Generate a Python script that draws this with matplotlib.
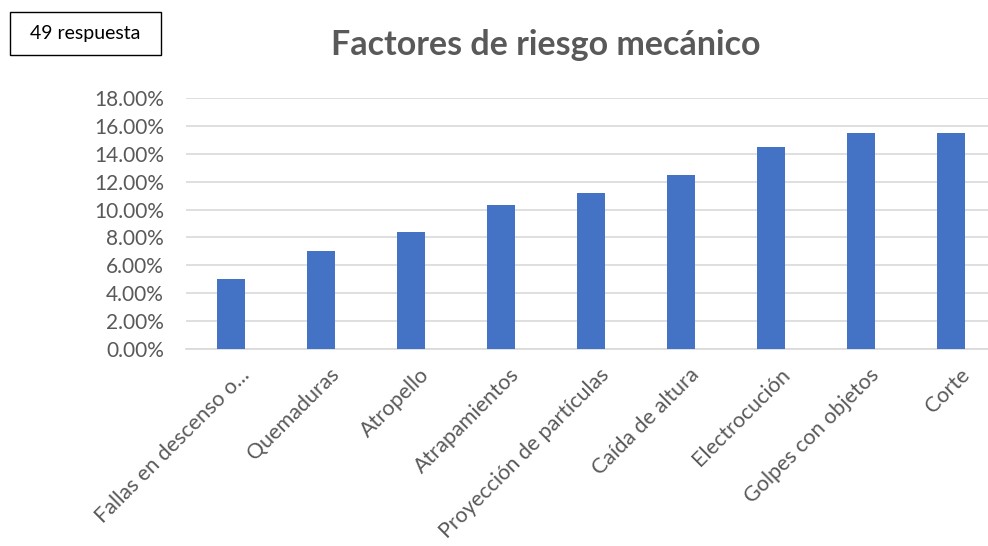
import matplotlib.pyplot as plt
import matplotlib.transforms as mtransforms
from matplotlib.patches import Rectangle
from matplotlib.ticker import FuncFormatter

# datos
categorias = ["Fallas en descenso o...", "Quemaduras", "Atropello", "Atrapamientos",
              "Proyección de partículas", "Caída de altura", "Electrocución",
              "Golpes con objetos", "Corte"]
valores = [5.0, 7.0, 8.4, 10.3, 11.2, 12.5, 14.5, 15.5, 15.5]
yticks = [0, 2, 4, 6, 8, 10, 12, 14, 16, 18]

plt.rcParams['font.family'] = ['Lato', 'DejaVu Sans']
gris = '#595959'

fig = plt.figure(figsize=(9.88, 5.46), dpi=100)
W, H = 988, 546
# zone du graphique (en pixels de la référence)
ax = fig.add_axes([186 / W, (H - 349.3) / H, 810 / W, (349.3 - 97.7) / H])

x = range(len(categorias))
ax.bar(x, valores, width=0.31, color='#4472C4', zorder=3)

ax.set_xlim(-0.5, len(categorias) - 0.5)
ax.set_ylim(0, 18)
ax.set_yticks(yticks)
ax.yaxis.set_major_formatter(FuncFormatter(lambda v, p: f"{v:.2f}%"))
ax.yaxis.grid(True, color='#d9d9d9', linewidth=1.2, zorder=0)
ax.tick_params(axis='both', length=0, colors=gris)
ax.tick_params(axis='y', pad=16, labelsize=15)
ax.tick_params(axis='x', pad=11, labelsize=15.5)

ax.set_xticks(list(x))
ax.set_xticklabels(categorias, rotation=45, ha='right', va='top',
                   rotation_mode='anchor')
decalage = mtransforms.ScaledTranslation(6 / 72, 0, fig.dpi_scale_trans)
for lbl in ax.get_xticklabels():
    lbl.set_color(gris)
    lbl.set_transform(lbl.get_transform() + decalage)

for s in ['top', 'right', 'left']:
    ax.spines[s].set_visible(False)
ax.spines['bottom'].set_color('#d9d9d9')
ax.spines['bottom'].set_linewidth(1.2)

fig.text(546 / W, (H - 45) / H, "Factores de riesgo mecánico", ha='center', va='center',
         fontsize=24.5, fontweight='bold', color=gris)

# cadre "49 respuesta"
fig.patches.append(Rectangle((10 / W, (H - 55) / H), 151 / W, 43 / H,
                             transform=fig.transFigure, fill=False,
                             edgecolor='black', linewidth=1))
fig.text(85 / W, (H - 34) / H, "49 respuesta", ha='center', va='center',
         fontsize=14, color='black')

fig.savefig('out.png', dpi=100)
